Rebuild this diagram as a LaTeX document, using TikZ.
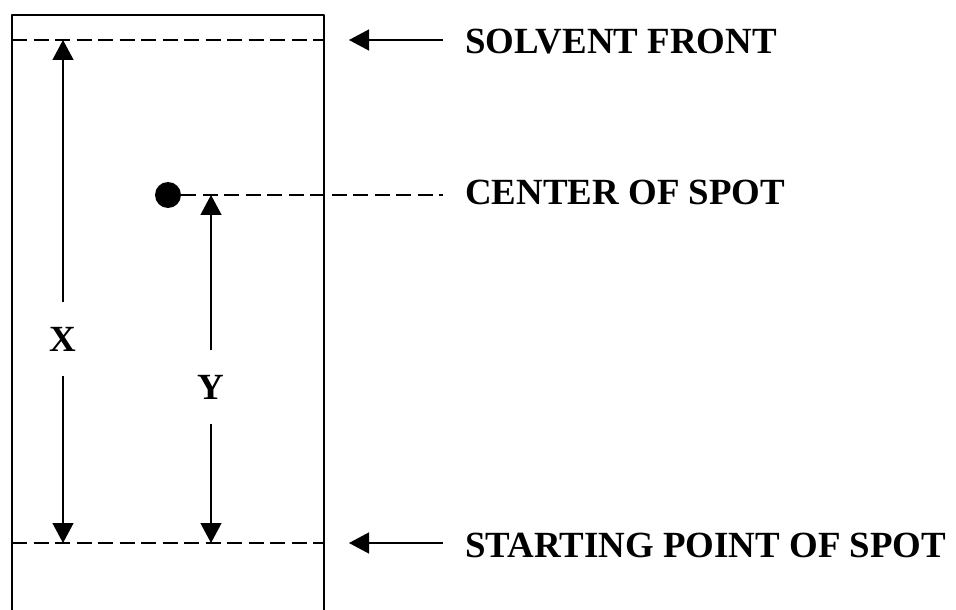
\documentclass[tikz,border=0pt]{standalone}
\usepackage{fontspec}
\setmainfont{Liberation Serif}
\usetikzlibrary{arrows.meta,positioning}
\tikzset{
  lbl/.style={font=\fontsize{21}{24}\selectfont\bfseries,anchor=west,inner sep=0pt},
  dim/.style={font=\fontsize{21}{24}\selectfont\bfseries,minimum height=74*0.2mm,inner sep=0pt},
  front/.style={dash pattern=on 0.3cm off 0.13cm,line width=0.75pt},
  pointer/.style={-{Triangle[length=0.4cm,width=0.42cm]},line width=0.75pt}
}
\begin{document}
\begin{tikzpicture}[x=0.2mm,y=-0.2mm,line join=round]
    \useasboundingbox (0,0) rectangle (956,610);
    % plate
    \draw[line width=0.9pt](12,612)--(12,15)--(324,15)--(324,612);
    % solvent front and start line
    \coordinate (ftl) at (12,40);
    \coordinate (ftr) at (324,40);
    \coordinate (stl) at (12,543);
    \coordinate (str) at (324,543);
    \draw[front](ftl)--(ftr);
    \draw[front](stl)--(str);
    % spot
    \node[circle,fill=black,minimum size=26*0.2mm,inner sep=0pt] (spot) at (168,195) {};
    \coordinate (spe) at (443,195);
    \draw[front](spot.east)--(spe);
    % X and Y
    \node[dim] (X) at (63,339) {X};
    \node[dim] (Y) at (211,387) {Y};
    \draw[pointer](X.north)--(X|-ftl);
    \draw[pointer](X.south)--(X|-stl);
    \draw[pointer](Y.north)--(Y|-spot);
    \draw[pointer](Y.south)--(Y|-stl);
    % labels
    \node[lbl] (sf) at (465,42) {SOLVENT FRONT};
    \node[lbl] (cs) at (465,192) {CENTER OF SPOT};
    \node[lbl] (sp) at (465,545) {STARTING POINT OF SPOT};
    \coordinate (sfa) at (443,40);
    \coordinate (spa) at (443,543);
    \draw[pointer](sfa)--(349,40);
    \draw[pointer](spa)--(349,543);
  \end{tikzpicture}
\end{document}
